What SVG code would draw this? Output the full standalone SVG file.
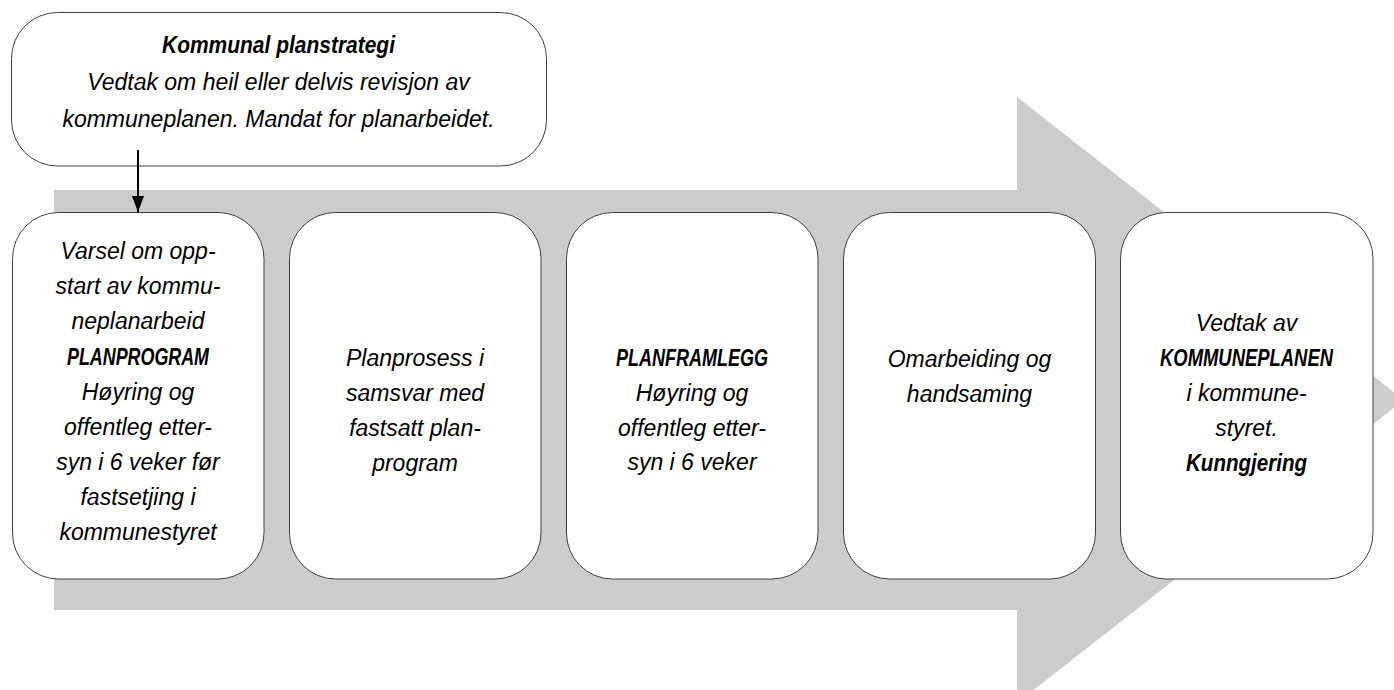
<svg xmlns="http://www.w3.org/2000/svg" width="1394" height="690" viewBox="0 0 1394 690">
<style>
.box{fill:#ffffff;stroke:#404040;stroke-width:1}
.t{font-family:"Liberation Sans",Arial,sans-serif;font-style:italic;font-size:23px;fill:#000;text-anchor:middle}
.b{font-weight:bold}
.conn{stroke:#000;stroke-width:2;fill:none}
</style>
<defs>
<marker id="ah" markerUnits="userSpaceOnUse" markerWidth="16" markerHeight="12" refX="16" refY="6" orient="auto" viewBox="0 0 16 12">
<path d="M0,0 L16,6 L0,12 Z" fill="#000"/>
</marker>
</defs>
<g id="bigarrow">
<polygon points="54,190 1017,190 1017,97 1404,400 1017,703 1017,610 54,610" fill="#cccccc"/>
</g>
<g id="planstrategi">
<rect class="box" x="11.5" y="12.5" width="535" height="153.5" rx="46" ry="46"/>
<text class="t b" x="278.5" y="53" textLength="233" lengthAdjust="spacingAndGlyphs">Kommunal planstrategi</text>
<text class="t" x="278.5" y="90">Vedtak om heil eller delvis revisjon av</text>
<text class="t" x="278.5" y="127">kommuneplanen. Mandat for planarbeidet.</text>
</g>
<g id="step1">
<rect class="box" x="12.5" y="212.5" width="251.5" height="366.5" rx="46" ry="46"/>
<text class="t" x="138" y="259">Varsel om opp-</text>
<text class="t" x="138" y="294">start av kommu-</text>
<text class="t" x="138" y="329">neplanarbeid</text>
<text class="t b" x="138" y="364.5" textLength="142" lengthAdjust="spacingAndGlyphs">PLANPROGRAM</text>
<text class="t" x="138" y="399.5">Høyring og</text>
<text class="t" x="138" y="434.5">offentleg etter-</text>
<text class="t" x="138" y="470">syn i 6 veker før</text>
<text class="t" x="138" y="505">fastsetjing i</text>
<text class="t" x="138" y="540">kommunestyret</text>
</g>
<g id="step2">
<rect class="box" x="289.5" y="212.5" width="251.5" height="366.5" rx="46" ry="46"/>
<text class="t" x="415" y="366">Planprosess i</text>
<text class="t" x="415" y="401">samsvar med</text>
<text class="t" x="415" y="436">fastsatt plan-</text>
<text class="t" x="415" y="471">program</text>
</g>
<g id="step3">
<rect class="box" x="566.5" y="212.5" width="251.5" height="366.5" rx="46" ry="46"/>
<text class="t b" x="692" y="366" textLength="152" lengthAdjust="spacingAndGlyphs">PLANFRAMLEGG</text>
<text class="t" x="692" y="401">Høyring og</text>
<text class="t" x="692" y="436">offentleg etter-</text>
<text class="t" x="692" y="470">syn i 6 veker</text>
</g>
<g id="step4">
<rect class="box" x="843.5" y="212.5" width="252" height="366.5" rx="46" ry="46"/>
<text class="t" x="969.5" y="367">Omarbeiding og</text>
<text class="t" x="969.5" y="402">handsaming</text>
</g>
<g id="step5">
<rect class="box" x="1120.5" y="212.5" width="252.5" height="366.5" rx="46" ry="46"/>
<text class="t" x="1246.5" y="331">Vedtak av</text>
<text class="t b" x="1246.5" y="366" textLength="173" lengthAdjust="spacingAndGlyphs">KOMMUNEPLANEN</text>
<text class="t" x="1246.5" y="401">i kommune-</text>
<text class="t" x="1246.5" y="436">styret.</text>
<text class="t b" x="1246.5" y="471" textLength="121" lengthAdjust="spacingAndGlyphs">Kunngjering</text>
</g>
<g id="connectors">
<line class="conn" x1="138" y1="150" x2="138" y2="212" marker-end="url(#ah)"/>
</g>
</svg>
